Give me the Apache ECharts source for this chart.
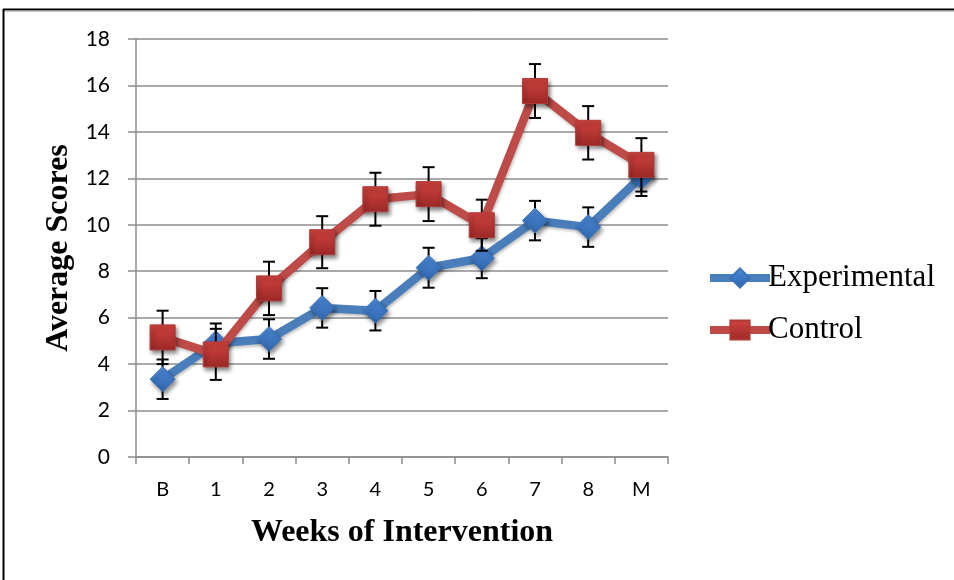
<!DOCTYPE html>
<html>
<head>
<meta charset="utf-8">
<script src="https://cdn.jsdelivr.net/npm/echarts@6/dist/echarts.min.js"></script>
<style>
html,body{margin:0;padding:0;background:#fff;}
#chart{width:954px;height:580px;}
</style>
</head>
<body>
<div id="chart"></div>
<script>
// ---- data ----
const categories = ['B', '1', '2', '3', '4', '5', '6', '7', '8', 'M'];
const experimental = [3.35, 4.9, 5.08, 6.42, 6.3, 8.15, 8.56, 10.18, 9.9, 12.07];
const experimentalErr = [0.85, 0.85, 0.85, 0.85, 0.85, 0.86, 0.86, 0.85, 0.85, 0.83];
const control = [5.15, 4.42, 7.26, 9.25, 11.1, 11.32, 9.98, 15.76, 13.96, 12.58];
const controlErr = [1.15, 1.1, 1.15, 1.12, 1.14, 1.16, 1.1, 1.16, 1.15, 1.15];
const yTicks = { min: 0, max: 18, interval: 2 };

function errData(vals, errs) {
  return vals.map((v, i) => [i, v - errs[i], v + errs[i]]);
}

function renderErr(params, api) {
  const x = api.value(0);
  const lo = api.coord([x, api.value(1)]);
  const hi = api.coord([x, api.value(2)]);
  const hw = 6;
  const style = { stroke: '#000', lineWidth: 2, fill: null };
  return {
    type: 'group',
    children: [
      { type: 'line', shape: { x1: lo[0], y1: lo[1], x2: hi[0], y2: hi[1] }, style },
      { type: 'line', shape: { x1: hi[0] - hw, y1: hi[1], x2: hi[0] + hw, y2: hi[1] }, style },
      { type: 'line', shape: { x1: lo[0] - hw, y1: lo[1], x2: lo[0] + hw, y2: lo[1] }, style }
    ]
  };
}

const chart = echarts.init(document.getElementById('chart'), null, { renderer: 'canvas' });

const blueGrad = new echarts.graphic.LinearGradient(0, 0, 0, 1, [
  { offset: 0, color: '#4d8ad8' }, { offset: 1, color: '#2f65ad' }
]);
const redGrad = new echarts.graphic.LinearGradient(0, 0, 0, 1, [
  { offset: 0, color: '#d0433f' }, { offset: 1, color: '#9b2826' }
]);

const option = {
  animation: false,
  backgroundColor: '#fff',
  grid: { left: 136, right: 286, top: 39, bottom: 123, containLabel: false },
  legend: {
    orient: 'vertical',
    left: 701,
    top: 256,
    data: ['Experimental', 'Control'],
    itemWidth: 60,
    itemHeight: 24,
    itemGap: 18,
    lineStyle: { width: 8 },
    textStyle: { fontFamily: 'Liberation Serif', fontSize: 31, color: '#000', lineHeight: 34, padding: [0, 0, 0, -7] }
  },
  xAxis: {
    type: 'category',
    data: categories,
    boundaryGap: true,
    name: 'Weeks of Intervention',
    nameLocation: 'middle',
    nameGap: 60,
    nameTextStyle: { fontFamily: 'Liberation Serif', fontWeight: 'bold', fontSize: 32, color: '#000' },
    axisLine: { lineStyle: { color: '#8c8c8c', width: 1.5 } },
    axisTick: { show: true, length: 7, interval: 0, lineStyle: { color: '#8c8c8c', width: 1.5 } },
    axisLabel: { fontFamily: 'Lato', fontSize: 20, color: '#000', margin: 23, interval: 0 },
    splitLine: { show: false }
  },
  yAxis: {
    type: 'value',
    min: yTicks.min,
    max: yTicks.max,
    interval: yTicks.interval,
    name: 'Average Scores',
    nameLocation: 'middle',
    nameGap: 58,
    nameTextStyle: { fontFamily: 'Liberation Serif', fontWeight: 'bold', fontSize: 32, color: '#000' },
    axisLine: { show: true, lineStyle: { color: '#8c8c8c', width: 1.5 } },
    axisTick: { show: true, length: 8, lineStyle: { color: '#8c8c8c', width: 1.5 } },
    axisLabel: { fontFamily: 'Lato', fontSize: 21, color: '#000', margin: 26 },
    splitLine: { show: true, lineStyle: { color: '#8c8c8c', width: 1.5 } }
  },
  series: [
    {
      name: 'ExpErr', type: 'custom', z: 1,
      renderItem: renderErr,
      encode: { x: 0, y: [1, 2] },
      data: errData(experimental, experimentalErr),
      silent: true
    },
    {
      name: 'Experimental', type: 'line', z: 2,
      data: experimental,
      symbol: 'diamond', symbolSize: 25,
      lineStyle: { color: '#4a7ebb', width: 8.5, shadowColor: 'rgba(0,0,0,0.25)', shadowBlur: 3, shadowOffsetX: 1, shadowOffsetY: 2 },
      itemStyle: { color: blueGrad, borderColor: '#3a72b8', borderWidth: 1, shadowColor: 'rgba(0,0,0,0.45)', shadowBlur: 4, shadowOffsetX: 2, shadowOffsetY: 3 }
    },
    {
      name: 'CtrlErr', type: 'custom', z: 3,
      renderItem: renderErr,
      encode: { x: 0, y: [1, 2] },
      data: errData(control, controlErr),
      silent: true
    },
    {
      name: 'Control', type: 'line', z: 4,
      data: control,
      symbol: 'rect', symbolSize: 25,
      lineStyle: { color: '#be4b48', width: 8.5, shadowColor: 'rgba(0,0,0,0.25)', shadowBlur: 3, shadowOffsetX: 1, shadowOffsetY: 2 },
      itemStyle: { color: redGrad, borderColor: '#b13a37', borderWidth: 1, shadowColor: 'rgba(0,0,0,0.45)', shadowBlur: 4, shadowOffsetX: 2, shadowOffsetY: 3 }
    }
  ],
  graphic: [
    { type: 'line', shape: { x1: 3, y1: 9.5, x2: 954, y2: 9.5 }, style: { stroke: '#000', lineWidth: 2 } },
    { type: 'line', shape: { x1: 3, y1: 11, x2: 954, y2: 11 }, style: { stroke: '#999', lineWidth: 1 } },
    { type: 'line', shape: { x1: 3.5, y1: 9, x2: 3.5, y2: 580 }, style: { stroke: '#000', lineWidth: 2 } }
  ]
};

chart.setOption(option);
</script>
</body>
</html>
